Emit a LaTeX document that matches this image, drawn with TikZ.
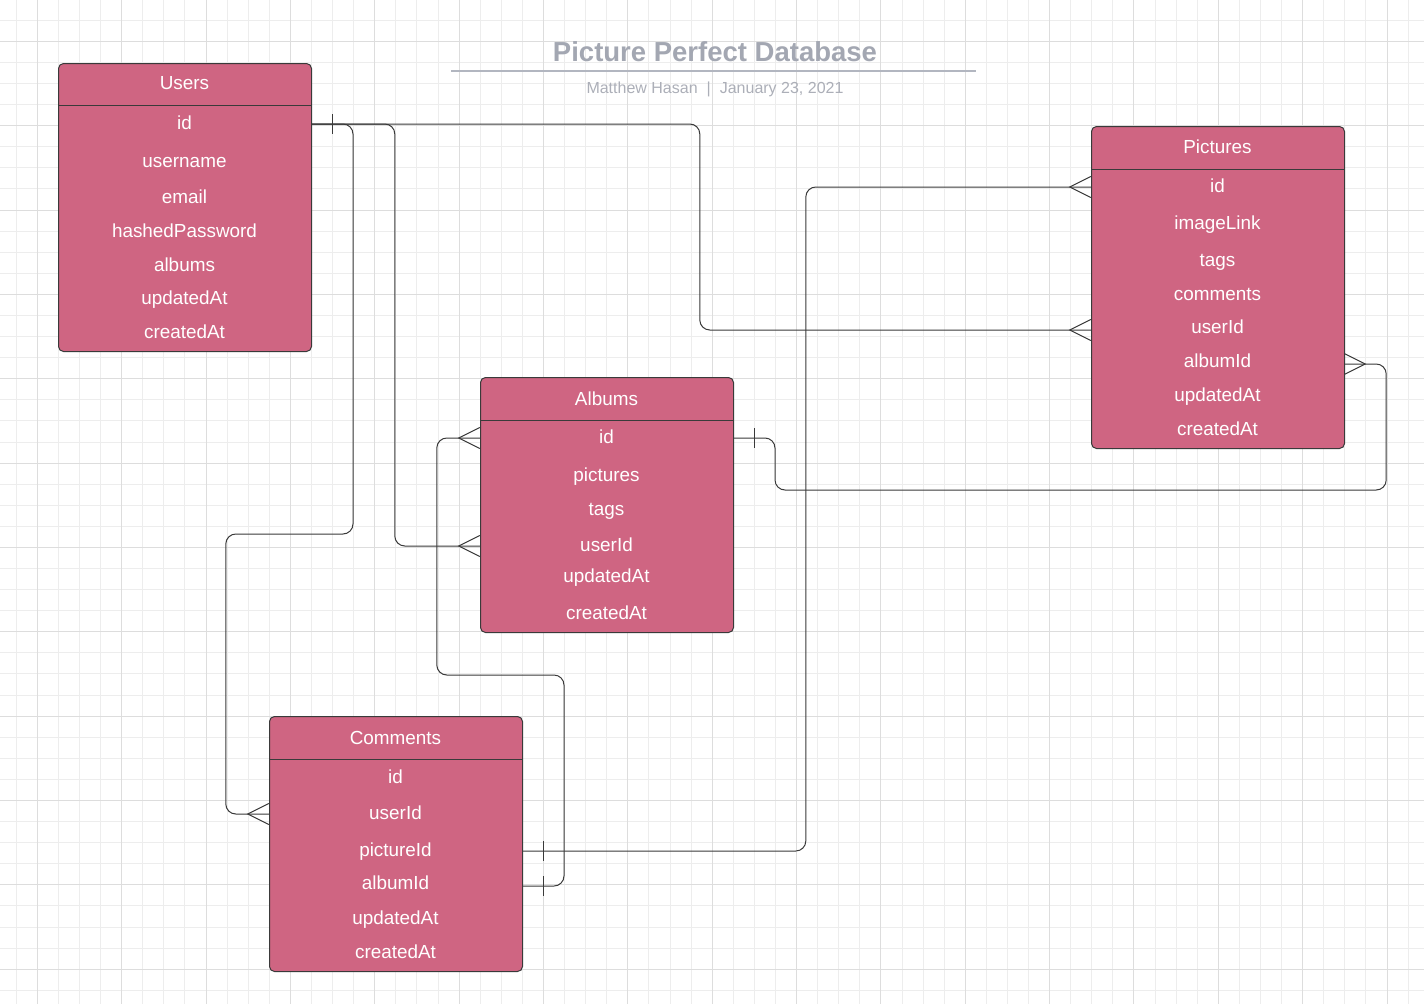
\documentclass[tikz,border=0pt]{standalone}
\usepackage{fontspec}
\setmainfont{Liberation Sans}
\definecolor{erfill}{RGB}{207,101,130}
\definecolor{erline}{RGB}{58,58,58}
\definecolor{gridminor}{RGB}{237,237,237}
\definecolor{gridmajor}{RGB}{221,221,221}
\definecolor{titlegray}{RGB}{163,167,178}
\definecolor{subgray}{RGB}{172,175,184}
\definecolor{rulegray}{RGB}{178,182,192}
\tikzset{
  conn/.style={draw=erline, line width=1pt},
  erbox/.style={draw=erline, fill=erfill, rounded corners=5pt, line width=1pt, anchor=north west, inner sep=0pt, minimum width=253pt},
  erow/.style={text=white, font=\fontsize{18.9}{20}\selectfont, minimum width=253pt, inner sep=0pt, text height=11pt, text depth=0pt},
  erowup/.style={erow, text height=7pt},
  crowW/.pic={\draw[conn] (0,-10.5) -- (-21,0) -- (0,10.5);},
  crowE/.pic={\draw[conn] (0,-10.5) -- (21,0) -- (0,10.5);},
  tickE/.pic={\draw[conn] (21,-10) -- (21,10);}
}
\begin{document}
\begin{tikzpicture}[x=1pt,y=-1pt]
\useasboundingbox (0,0) rectangle (1424,1004);
\fill[white] (0,0) rectangle (1424,1004);
% grid
\foreach \i in {0,...,66} {\pgfmathsetmacro\gx{16.21+21.09*\i}\draw[gridminor, line width=1pt] (\gx,0) -- (\gx,1004);}
\foreach \i in {0,...,46} {\pgfmathsetmacro\gy{20.2+21.09*\i}\draw[gridminor, line width=1pt] (0,\gy) -- (1424,\gy);}
\foreach \i in {0,...,16} {\pgfmathsetmacro\gx{37.3+84.36*\i}\draw[gridmajor, line width=1pt] (\gx,0) -- (\gx,1004);}
\foreach \i in {0,...,11} {\pgfmathsetmacro\gy{41.3+84.36*\i}\draw[gridmajor, line width=1pt] (0,\gy) -- (1424,\gy);}

% title
\node[font=\bfseries\fontsize{27.5}{30}\selectfont, text=titlegray, anchor=base, inner sep=0pt] (title) at (715,61) {Picture Perfect Database};
\draw[rulegray, line width=2pt] (451,71) -- (976,71);
\node[font=\fontsize{16}{18}\selectfont, text=subgray, anchor=base, inner sep=0pt] (subtitle) at (715,93) {Matthew Hasan\hspace{9pt}|\hspace{9pt}January 23, 2021};

% boxes
\node[erbox, minimum height=288pt] (users) at (58,63) {};
\node[erbox, minimum height=322pt] (pictures) at (1091,126) {};
\node[erbox, minimum height=255pt] (albums) at (480,377) {};
\node[erbox, minimum height=255pt] (comments) at (269,716) {};
\draw[conn] ([yshift=-42pt]users.north west) -- ([yshift=-42pt]users.north east);
\draw[conn] ([yshift=-43pt]pictures.north west) -- ([yshift=-43pt]pictures.north east);
\draw[conn] ([yshift=-43pt]albums.north west) -- ([yshift=-43pt]albums.north east);
\draw[conn] ([yshift=-43pt]comments.north west) -- ([yshift=-43pt]comments.north east);

% Users rows
\node[erow] (users-title) at (184.5,84) {Users};
\node[erow] (users-id) at (184.5,124) {id};
\node[erow] (users-username) at (184.5,161.5) {username};
\node[erow] (users-email) at (184.5,197.5) {email};
\node[erow] (users-hash) at (184.5,231.5) {hashedPassword};
\node[erow] (users-albums) at (184.5,265.5) {albums};
\node[erow] (users-updated) at (184.5,298.5) {updatedAt};
\node[erow] (users-created) at (184.5,332.5) {createdAt};

% Pictures rows
\node[erow] (pic-title) at (1217.5,148) {Pictures};
\node[erow] (pic-id) at (1217.5,187) {id};
\node[erow] (pic-link) at (1217.5,223.5) {imageLink};
\node[erow] (pic-tags) at (1217.5,260.5) {tags};
\node[erow] (pic-comments) at (1217.5,294.5) {comments};
\node[erowup] (pic-userid) at (1217.5,330) {userId};
\node[erowup] (pic-albumid) at (1217.5,364) {albumId};
\node[erow] (pic-updated) at (1217.5,395.5) {updatedAt};
\node[erow] (pic-created) at (1217.5,429.5) {createdAt};

% Albums rows
\node[erow] (alb-title) at (606.5,399.5) {Albums};
\node[erow] (alb-id) at (606.5,438) {id};
\node[erow] (alb-pictures) at (606.5,475.5) {pictures};
\node[erow] (alb-tags) at (606.5,509.5) {tags};
\node[erow] (alb-userid) at (606.5,546) {userId};
\node[erow] (alb-updated) at (606.5,576.5) {updatedAt};
\node[erow] (alb-created) at (606.5,613.5) {createdAt};

% Comments rows
\node[erow] (com-title) at (395.5,738.5) {Comments};
\node[erow] (com-id) at (395.5,777.5) {id};
\node[erow] (com-userid) at (395.5,814) {userId};
\node[erow] (com-pictureid) at (395.5,851) {pictureId};
\node[erowup] (com-albumid) at (395.5,886) {albumId};
\node[erow] (com-updated) at (395.5,918.5) {updatedAt};
\node[erow] (com-created) at (395.5,952.5) {createdAt};

% connectors
\begin{scope}[rounded corners=10pt]
\draw[conn] (users-id.east) -| (353,534) -| ([xshift=-43pt]com-userid.west) -- (com-userid.west);
\draw[conn] (users-id.east) -| ([xshift=-85pt]alb-userid.west) -- (alb-userid.west);
\draw[conn] (users-id.east) -| ([xshift=-391pt]pic-userid.west) -- (pic-userid.west);
\draw[conn] (com-pictureid.east) -| ([xshift=-285pt]pic-id.west) -- (pic-id.west);
\draw[conn] (com-albumid.east) -| (564,675) -| ([xshift=-43pt]alb-id.west) -- (alb-id.west);
\draw[conn] (alb-id.east) -| (775,490) -| ([xshift=42pt]pic-albumid.east) -- (pic-albumid.east);
\end{scope}

% ends
\pic at (pic-id.west) {crowW};
\pic at (pic-userid.west) {crowW};
\pic at (alb-id.west) {crowW};
\pic at (alb-userid.west) {crowW};
\pic at (com-userid.west) {crowW};
\pic at (pic-albumid.east) {crowE};
\pic at (users-id.east) {tickE};
\pic at (com-pictureid.east) {tickE};
\pic at (com-albumid.east) {tickE};
\pic at (alb-id.east) {tickE};
\end{tikzpicture}
\end{document}
